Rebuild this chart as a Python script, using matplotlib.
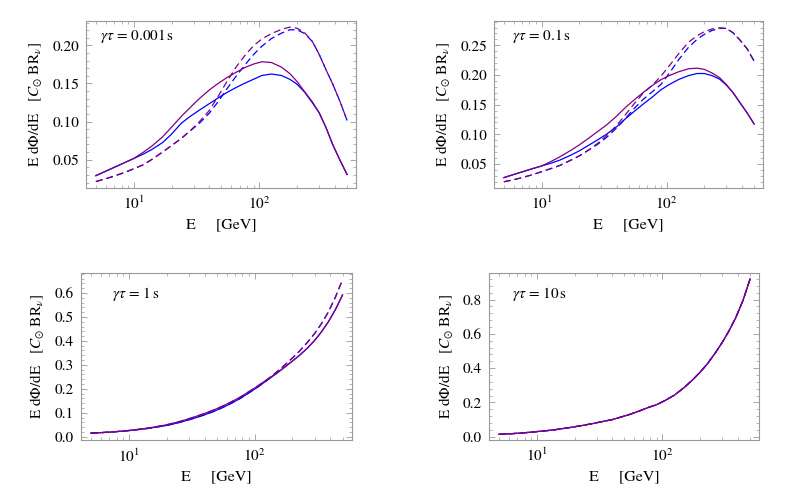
import numpy as np
import matplotlib
matplotlib.use("Agg")
import matplotlib.pyplot as plt
from matplotlib.ticker import MultipleLocator, FormatStrFormatter, LogLocator

plt.rcParams['font.family'] = ['STIXGeneral', 'DejaVu Serif']
plt.rcParams['mathtext.fontset'] = 'stix'

energy = [5, 6, 7, 8.5, 10, 12, 14, 17, 20, 24, 28, 33, 40, 47, 55, 65, 77, 90,
          105, 125, 150, 175, 200, 230, 265, 300, 340, 385, 440, 500]

# gamma*tau = 0.001 s
p1_purple = [0.029, 0.0349, 0.0399, 0.0462, 0.0515, 0.060, 0.068, 0.080, 0.0925, 0.107,
             0.118, 0.1295, 0.1415, 0.150, 0.1575, 0.1645, 0.171, 0.1755, 0.1785, 0.1775,
             0.1715, 0.163, 0.1525, 0.139, 0.1257, 0.1115, 0.092, 0.0695, 0.049, 0.0305]
p1_blue = [0.029, 0.0349, 0.0399, 0.0462, 0.0515, 0.0575, 0.0635, 0.0725, 0.0835, 0.098,
           0.1065, 0.1145, 0.1235, 0.131, 0.138, 0.1445, 0.1505, 0.1555, 0.1605, 0.1624,
           0.1605, 0.1555, 0.149, 0.1385, 0.1245, 0.1115, 0.092, 0.0695, 0.049, 0.0305]
p1_purple_d = [0.0213, 0.025, 0.0285, 0.0333, 0.038, 0.0435, 0.0505, 0.060, 0.0685, 0.078,
               0.0875, 0.099, 0.1145, 0.133, 0.152, 0.171, 0.187, 0.1995, 0.2085, 0.2155,
               0.221, 0.224, 0.2225, 0.2165, 0.205, 0.188, 0.168, 0.149, 0.126, 0.1016]
p1_blue_d = [0.0213, 0.025, 0.0285, 0.0333, 0.038, 0.0435, 0.0505, 0.060, 0.0685, 0.078,
             0.0875, 0.097, 0.111, 0.126, 0.1425, 0.159, 0.1745, 0.188, 0.199, 0.209,
             0.216, 0.2205, 0.2205, 0.2155, 0.205, 0.188, 0.168, 0.149, 0.126, 0.1016]

# gamma*tau = 0.1 s
p2_purple = [0.027, 0.0323, 0.0367, 0.0422, 0.0466, 0.0545, 0.062, 0.0725, 0.082, 0.094,
             0.1045, 0.1155, 0.131, 0.1455, 0.158, 0.1705, 0.1825, 0.192, 0.199, 0.2055,
             0.2105, 0.2115, 0.2095, 0.2035, 0.1955, 0.184, 0.170, 0.1535, 0.136, 0.1175]
p2_blue = [0.027, 0.0323, 0.0367, 0.0422, 0.0466, 0.0515, 0.0565, 0.0645, 0.072, 0.082,
           0.0905, 0.100, 0.113, 0.1265, 0.1385, 0.151, 0.163, 0.175, 0.184, 0.1925,
           0.199, 0.2025, 0.2025, 0.199, 0.193, 0.183, 0.170, 0.1535, 0.136, 0.1175]
p2_purple_d = [0.020, 0.0235, 0.027, 0.032, 0.037, 0.0425, 0.0475, 0.056, 0.0635, 0.074,
               0.0845, 0.0975, 0.1155, 0.1335, 0.1515, 0.1695, 0.183, 0.198, 0.2155, 0.236,
               0.2555, 0.266, 0.273, 0.2775, 0.2795, 0.2785, 0.271, 0.259, 0.244, 0.2235]
p2_blue_d = [0.020, 0.0235, 0.027, 0.032, 0.037, 0.0425, 0.0475, 0.056, 0.0635, 0.074,
             0.083, 0.0945, 0.111, 0.127, 0.1435, 0.159, 0.172, 0.184, 0.203, 0.226,
             0.247, 0.260, 0.2685, 0.275, 0.2785, 0.2785, 0.271, 0.259, 0.244, 0.2235]

# gamma*tau = 1 s
p3_purple = [0.015, 0.017, 0.019, 0.0225, 0.026, 0.031, 0.0355, 0.043, 0.050, 0.060,
             0.070, 0.082, 0.097, 0.111, 0.1265, 0.145, 0.1655, 0.188, 0.2105, 0.238,
             0.266, 0.292, 0.316, 0.342, 0.372, 0.402, 0.438, 0.479, 0.532, 0.592]
p3_blue = [0.015, 0.017, 0.019, 0.0225, 0.0255, 0.030, 0.034, 0.041, 0.047, 0.0565,
           0.066, 0.077, 0.0915, 0.105, 0.1205, 0.139, 0.160, 0.183, 0.206, 0.2345,
           0.2645, 0.292, 0.316, 0.342, 0.372, 0.402, 0.438, 0.479, 0.532, 0.592]
p3_purple_d = [0.015, 0.017, 0.019, 0.0225, 0.026, 0.031, 0.0355, 0.043, 0.050, 0.060,
               0.070, 0.082, 0.097, 0.111, 0.1265, 0.145, 0.1655, 0.188, 0.2105, 0.238,
               0.271, 0.301, 0.329, 0.360, 0.396, 0.431, 0.472, 0.520, 0.584, 0.656]
p3_blue_d = [0.015, 0.017, 0.019, 0.0225, 0.0255, 0.030, 0.034, 0.041, 0.047, 0.0565,
             0.066, 0.077, 0.0915, 0.105, 0.1205, 0.139, 0.160, 0.183, 0.206, 0.2345,
             0.269, 0.301, 0.329, 0.360, 0.396, 0.431, 0.472, 0.520, 0.584, 0.656]

# gamma*tau = 10 s (all four curves coincide)
p4_all = [0.014, 0.017, 0.020, 0.025, 0.030, 0.0355, 0.041, 0.050, 0.058, 0.068,
          0.077, 0.088, 0.100, 0.115, 0.130, 0.149, 0.170, 0.187, 0.211, 0.243,
          0.288, 0.333, 0.376, 0.428, 0.490, 0.550, 0.618, 0.695, 0.797, 0.920]

labels = [r'$\gamma\tau$ = 0.001$\,$s', r'$\gamma\tau$ = 0.1$\,$s',
          r'$\gamma\tau$ = 1$\,$s', r'$\gamma\tau$ = 10$\,$s']

purple = '#800080'
blue = '#0000ff'

fig = plt.figure(figsize=(7.89, 4.88), dpi=100)

# axes boxes in pixels (left, top, right, bottom)
boxes = [(86, 21, 356, 188), (494, 21, 763, 188), (81, 273, 351.5, 440.3), (489, 273, 759, 440)]
ylims = [(0.0128, 0.232), (0.0095, 0.291), (-0.015, 0.6835), (-0.019, 0.955)]
ymajor = [0.05, 0.05, 0.1, 0.2]
yminor = [0.01, 0.01, 0.02, 0.04]
yfmt = ['%.2f', '%.2f', '%.1f', '%.1f']
text_pos = [(0.052, 0.91), (0.067, 0.91), (0.113, 0.875), (0.084, 0.875)]

curves = [(p1_purple, p1_blue, p1_purple_d, p1_blue_d),
          (p2_purple, p2_blue, p2_purple_d, p2_blue_d),
          (p3_purple, p3_blue, p3_purple_d, p3_blue_d),
          (p4_all, p4_all, p4_all, p4_all)]

W, H = 789, 488
for i, (l, t, r, b) in enumerate(boxes):
    ax = fig.add_axes([l / W, 1 - b / H, (r - l) / W, (b - t) / H])
    sp, sb, dp, db = curves[i]
    ax.plot(energy, sb, color=blue, lw=0.9)
    ax.plot(energy, db, color=blue, lw=0.9, dashes=(5.5, 3.2))
    ax.plot(energy, sp, color=purple, lw=0.9)
    ax.plot(energy, dp, color=purple, lw=0.9, dashes=(5.5, 3.2))

    ax.set_xscale('log')
    ax.set_xlim(4.17, 589)
    ax.set_ylim(*ylims[i])
    ax.xaxis.set_major_locator(LogLocator(base=10, numticks=5))
    ax.xaxis.set_minor_locator(LogLocator(base=10, subs=np.arange(2, 10), numticks=12))
    ax.yaxis.set_major_locator(MultipleLocator(ymajor[i]))
    ax.yaxis.set_minor_locator(MultipleLocator(yminor[i]))
    ax.yaxis.set_major_formatter(FormatStrFormatter(yfmt[i]))

    ax.tick_params(which='both', direction='in', top=True, right=True,
                   color='#999999', labelsize=11, labelcolor='black')
    ax.tick_params(which='major', length=4, width=0.6, pad=5)
    ax.tick_params(which='minor', length=2, width=0.5)
    for s in ax.spines.values():
        s.set_color('#999999')
        s.set_linewidth(0.8)

    ax.set_xlabel('E     [GeV]', fontsize=11.5, labelpad=4)
    ax.set_ylabel(r'E d$\Phi$/dE   [$C_{\odot}$ BR$_{\nu}$]', fontsize=11, labelpad=6)
    ax.text(text_pos[i][0], text_pos[i][1], labels[i], transform=ax.transAxes,
            ha='left', va='center', fontsize=11)

fig.savefig('out.png', dpi=100)
